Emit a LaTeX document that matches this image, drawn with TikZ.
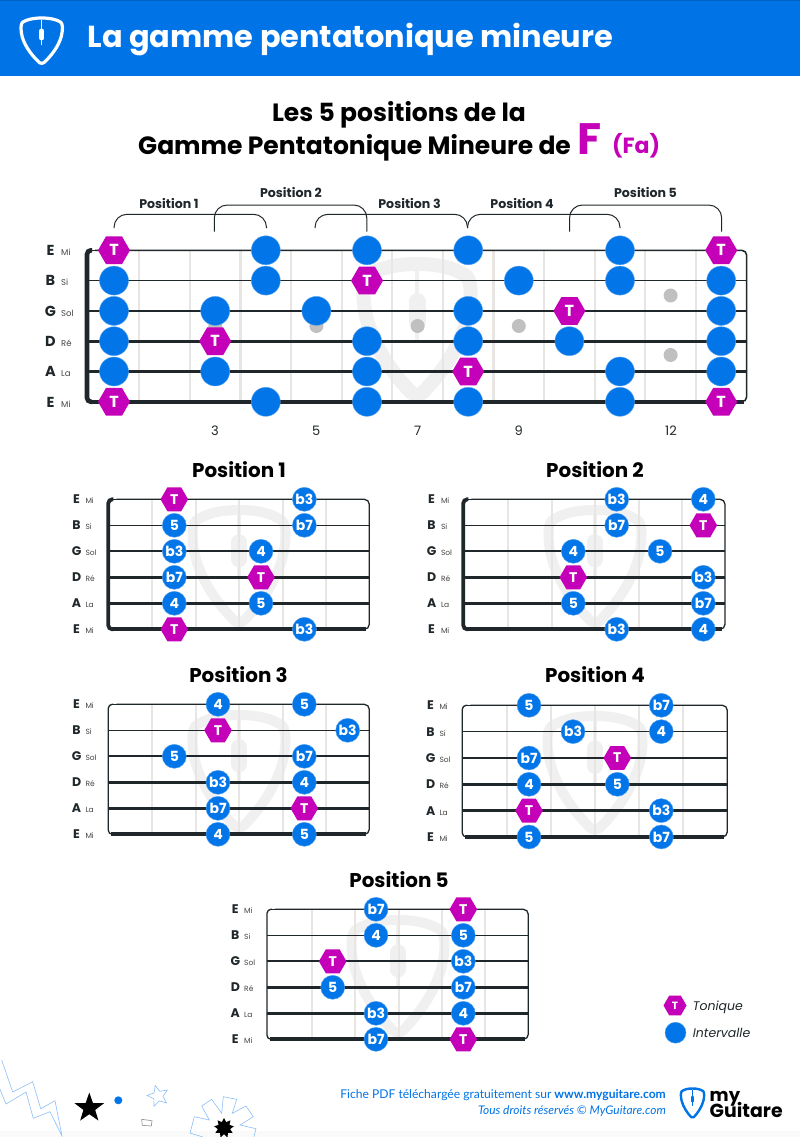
\documentclass[tikz,border=0pt]{standalone}
\usepackage{fontspec}
\setmainfont{Poppins}
\newfontfamily\lato{Lato}
\usetikzlibrary{shapes.geometric}
\definecolor{hblue}{HTML}{0073E6}
\definecolor{nblue}{HTML}{0275E8}
\definecolor{mag}{HTML}{C400B8}
\definecolor{dark}{HTML}{20272A}
\definecolor{fret}{HTML}{E8E5E2}
\definecolor{wm}{HTML}{F0F0F0}
\definecolor{dotg}{HTML}{C0C0C0}
\definecolor{lblue}{HTML}{8CC0F8}
\definecolor{lab}{HTML}{444444}
\newcommand{\fs}[1]{\fontsize{#1}{#1}\selectfont}
\newcounter{nn}
\tikzset{
  nm/.code={\stepcounter{nn}\tikzset{name=n\arabic{nn}}},
  every node/.style={nm,inner sep=0pt},
  cnote/.style={circle,fill=nblue,draw=nblue!65!white,line width=.4pt,minimum size=24pt,text=white,font=\fs{14}\bfseries},
  hnote/.style={regular polygon,regular polygon sides=6,fill=mag,minimum size=27.6pt,text=white,font=\fs{14}\bfseries},
  bcnote/.style={cnote,minimum size=29pt,font=\fs{15}\bfseries},
  bhnote/.style={hnote,minimum size=32pt,font=\fs{16}\bfseries},
  fretl/.style={fret,line width=2pt},
  brack/.style={dark,line width=1pt,rounded corners=13pt},
  gdot/.style={circle,fill=dotg,minimum size=14pt},
  ttl/.style={font=\fs{19.9}\bfseries,text=black},
  plab/.style={font=\fs{12.6}\bfseries,text=dark},
}
% pick: cx top hw vscale line-width colour pill-width
\newcommand{\pick}[7]{%
  \begin{scope}[shift={(#1,#2)},x=#3pt,y=-#4pt]
    \draw[#6,line width=#5pt,line join=round] (0,0)
      .. controls (.42,0) and (.72,.07) .. (.93,.2)
      .. controls (1.04,.28) and (1.03,.6) .. (.95,.9)
      .. controls (.8,1.4) and (.42,1.85) .. (.1,2.13)
      .. controls (.05,2.17) and (-.05,2.17) .. (-.1,2.13)
      .. controls (-.42,1.85) and (-.8,1.4) .. (-.95,.9)
      .. controls (-1.03,.6) and (-1.04,.28) .. (-.93,.2)
      .. controls (-.72,.07) and (-.42,0) .. cycle;
    \draw[#6,line width=#5pt*.35] (0,.1) -- (0,1.28);
    \draw[#6,line width=#7pt,line cap=round] (0,.62) -- (0,.95);
  \end{scope}}
% string labels: frame-left ytop dy bigsize smallsize offBig offSmall
\newcommand{\slabels}[7]{%
  \foreach \s/\bg/\sm in {0/E/Mi,1/B/Si,2/G/Sol,3/D/Ré,4/A/La,5/E/Mi}{
    \pgfmathsetmacro\yy{#2+#3*\s+#4*.36}
    \pgfmathsetmacro\xa{#1-#6}
    \pgfmathsetmacro\xb{#1-#7}
    \node[anchor=base,text=dark,font=\fs{#4}\bfseries] at (\xa,\yy) {\bg};
    \node[anchor=base west,text=lab,font=\fs{#5}] at (\xb,\yy) {\sm};
  }}
% strings: left right ytop dy scale
\newcommand{\strs}[5]{%
  \foreach \s/\w/\ins in {0/1.1/3,1/1.4/0,2/1.8/0,3/2.3/0,4/2.9/0,5/3.6/3}{
    \pgfmathsetmacro\yy{#3+#4*\s}
    \pgfmathsetmacro\ww{\w*#5}
    \draw[dark,line width=\ww pt] (#1+\ins,\yy) -- (#2-\ins,\yy);
  }}
% frame: left right ytop dy rightw leftw
\newcommand{\frm}[6]{%
  \pgfmathsetmacro\yb{#3+5*#4}
  \draw[dark,line width=#5pt,rounded corners=5pt] (#1+8,#3) -- (#2,#3) -- (#2,\yb) -- (#1+8,\yb);
  \draw[dark,line width=#6pt,rounded corners=4pt] (#1+5,#3) -- (#1,#3) -- (#1,\yb) -- (#1+5,\yb);
}
% small notes: ytop dy circles(s/x/l) hexes(s/x)
\newcommand{\snotes}[4]{%
  \foreach \s/\x/\nl in {#3}{
    \pgfmathsetmacro\yy{#1+#2*\s}
    \node[cnote] at (\x,\yy) {\nl};
  }
  \foreach \s/\x in {#4}{
    \pgfmathsetmacro\yy{#1+#2*\s}
    \node[hnote] at (\x,\yy) {T};
  }}
% frets: first spacing ytop ybot
\newcommand{\frts}[4]{%
  \foreach \i in {0,...,4}{
    \pgfmathsetmacro\xx{#1+#2*\i}
    \draw[fretl] (\xx,#3) -- (\xx,#4);
  }}
\begin{document}
\begin{tikzpicture}[x=1pt,y=-1pt]
\useasboundingbox (0,0) rectangle (800,1137);
% ===== header
\fill[white] (0,0) rectangle (800,1137);
\fill[hblue] (0,0) rectangle (800,76);
\fill[hblue!85!black] (0,0) rectangle (800,1);
\pick{41.7}{18}{20.5}{21}{3.2}{white}{5}
\node[anchor=base west,text=white,font=\fs{30.4}\bfseries] at (87.5,48) {La gamme pentatonique mineure};
% ===== main title
\node[anchor=base,font=\fs{25}\bfseries,text=black] at (399,121.5) {Les 5 positions de la};
\node[anchor=base west,font=\fs{25}\bfseries,text=black] at (138,154) {Gamme Pentatonique Mineure de};
\node[anchor=base west,font=\fs{44}\bfseries,text=mag] at (577,154.5) {F};
\node[anchor=base west,font=\fs{22}\bfseries,text=mag] at (612,153.5) {(Fa)};
% ===== main fretboard
\pick{417}{264}{53}{60.5}{14}{wm}{17}
\foreach \k in {0,...,11}{
  \pgfmathsetmacro\xx{139.3+50.6*\k}
  \draw[fret,line width=2.2pt] (\xx,250) -- (\xx,402);
}
\foreach \k/\yy in {2/326,4/326,6/326,8/326,11/295.5,11/355}{
  \pgfmathsetmacro\xx{114+50.6*\k}
  \node[gdot] at (\xx,\yy) {};
}
\slabels{87}{250.3}{30.3}{14.5}{8.5}{36.5}{26}
\strs{87}{746.7}{250.3}{30.3}{1.2}
\frm{87}{746.7}{250.3}{30.3}{1.5}{4.6}
\draw[brack] (114,228) -- (114,214.3) -- (266.5,214.3) -- (266.5,228);
\draw[brack] (214.3,231.5) -- (214.3,205) -- (366.8,205) -- (366.8,231.5);
\draw[brack] (315,228) -- (315,214.3) -- (467.5,214.3) -- (467.5,228);
\draw[brack] (467.5,228) -- (467.5,214.3) -- (620,214.3) -- (620,228);
\draw[brack] (569.5,231.5) -- (569.5,205) -- (721.7,205) -- (721.7,231.5);
\node[plab] at (169,204) {Position 1};
\node[plab] at (291,192.8) {Position 2};
\node[plab] at (409.5,204) {Position 3};
\node[plab] at (522,204) {Position 4};
\node[plab] at (645.5,192.8) {Position 5};
\foreach \s/\k in {0/3,0/5,0/7,0/10,1/0,1/3,1/8,1/10,1/12,2/0,2/2,2/4,2/7,2/12,3/0,3/5,3/7,3/9,3/12,4/0,4/2,4/5,4/10,4/12,5/3,5/5,5/7,5/10}{
  \pgfmathsetmacro\xx{114+50.6*\k}
  \pgfmathsetmacro\yy{250.3+30.3*\s}
  \node[bcnote] at (\xx,\yy) {};
}
\foreach \s/\k in {0/0,0/12,1/5,2/9,3/2,4/7,5/0,5/12}{
  \pgfmathsetmacro\xx{114+50.6*\k}
  \pgfmathsetmacro\yy{250.3+30.3*\s}
  \node[bhnote] at (\xx,\yy) {T};
}
\foreach \xx/\t in {215/3,316.3/5,417.6/7,518.8/9,671/12}{
  \node[font=\fs{13},text=dark] at (\xx,431) {\t};
}
% ===== position 1
\node[ttl] at (239,470) {Position 1};
\pick{239}{510}{46}{52}{10}{wm}{16}
\frts{152.3}{43.4}{499.3}{629.3}
\slabels{108.3}{499.3}{26}{12.5}{7.5}{31.7}{23}
\strs{108.3}{369.3}{499.3}{26}{1.1}
\frm{108.3}{369.3}{499.3}{26}{1.3}{3.8}
\snotes{499.3}{26}{0/304.4/b3,1/174.3/5,1/304.4/b7,2/174.3/b3,2/261/4,3/174.3/b7,4/174.3/4,4/261/5,5/304.4/b3}{0/174.3,3/261,5/174.3}
% ===== position 2
\node[ttl] at (595,470) {Position 2};
\pick{595}{510}{46}{52}{10}{wm}{16}
\frts{508.3}{43.4}{499.3}{629.3}
\slabels{463.3}{499.3}{26}{12.5}{7.5}{31.7}{22.5}
\strs{463.3}{725}{499.3}{26}{1.1}
\frm{463.3}{725}{499.3}{26}{1.3}{3.8}
\snotes{499.3}{26}{0/616.7/b3,0/703.3/4,1/616.7/b7,2/573.3/4,2/660/5,3/703.3/b3,4/573.3/5,4/703.3/b7,5/616.7/b3,5/703.3/4}{1/703.3,3/573.3}
% ===== position 3
\node[ttl] at (238.5,675) {Position 3};
\pick{239}{715}{46}{52}{10}{wm}{16}
\frts{152.3}{43.4}{704.3}{834.3}
\slabels{108.3}{704.3}{26}{12.5}{7.5}{31.7}{23}
\strs{108.3}{369.3}{704.3}{26}{1.1}
\frm{108.3}{369.3}{704.3}{26}{1.3}{1.3}
\snotes{704.3}{26}{0/218/4,0/304.3/5,1/347.7/b3,2/174.3/5,2/304.3/b7,3/218/b3,3/304.3/4,4/218/b7,5/218/4,5/304.3/5}{1/218,4/304.3}
% ===== position 4
\node[ttl] at (595,675) {Position 4};
\pick{595}{716}{47}{52.5}{10}{wm}{16}
\frts{507.3}{44}{705.3}{837}
\slabels{462.3}{705.3}{26.33}{12.5}{7.5}{31.7}{23}
\strs{462.3}{727.3}{705.3}{26.33}{1.1}
\frm{462.3}{727.3}{705.3}{26.33}{1.3}{1.3}
\snotes{705.3}{26.33}{0/529/5,0/661.3/b7,1/573/b3,1/661.3/4,2/529/b7,3/529/4,3/617.3/5,4/661.3/b3,5/529/5,5/661.3/b7}{2/617.3,4/529}
% ===== position 5
\node[ttl] at (399,880) {Position 5};
\pick{398}{920}{46}{52}{10}{wm}{16}
\frts{311.7}{43.4}{909.3}{1039.3}
\slabels{267}{909.3}{26}{12.5}{7.5}{31.7}{23}
\strs{267}{528.3}{909.3}{26}{1.1}
\frm{267}{528.3}{909.3}{26}{1.3}{1.3}
\snotes{909.3}{26}{0/376/b7,1/376/4,1/463.3/5,2/463.3/b3,3/332.7/5,3/463.3/b7,4/376/b3,4/463.3/4,5/376/b7}{0/463.3,2/332.7,5/463.3}
% ===== legend
\node[hnote,minimum size=23pt,font=\fs{10.5}\bfseries] at (675,1005.5) {T};
\node[cnote,minimum size=21pt] at (675.5,1032.7) {};
\node[anchor=base west,font=\fs{12.5}\itshape,text=dark] at (692.7,1010) {Tonique};
\node[anchor=base west,font=\fs{12.5}\itshape,text=dark] at (692.7,1037) {Intervalle};
% ===== footer
\node[anchor=base east,text=hblue,font=\lato\fs{12.1}] at (666,1098) {Fiche PDF téléchargée gratuitement sur \textbf{www.myguitare.com}};
\node[anchor=base east,text=hblue,font=\lato\fs{11.9}\itshape] at (666,1114.5) {Tous droits réservés © MyGuitare.com};
\pick{692.5}{1088.5}{11.5}{13.5}{2.4}{hblue}{3}
\node[anchor=base west,text=black,font=\fs{18}\bfseries] at (709.5,1101) {my};
\node[anchor=base west,text=black,font=\fs{18.9}\bfseries] at (709.5,1117.5) {Guitare};
% ===== decorations
\fill[black!2] (0,1131) rectangle (800,1137);
\draw[lblue,line width=.6pt,line join=miter] (1.7,1060) -- (12.7,1092) -- (32.7,1081.7) -- (40.7,1108.7) -- (55,1100.7) -- (62,1136) -- (50,1111.7) -- (33.3,1118.3) -- (26,1092) -- (6,1104) -- (0,1089.3);
\node[star,star points=5,star point ratio=2.5,fill=black,minimum size=31pt] at (89.3,1108) {};
\node[circle,fill=nblue,minimum size=8pt] at (118.3,1100.3) {};
\node[star,star points=5,star point ratio=2.2,draw=lblue,line width=.6pt,minimum size=22pt,rotate=15] at (158,1096) {};
\draw[black!40,line width=.7pt] (141.7,1119.3) -- (152,1120.7) -- (151.3,1126) -- (142.3,1125.3) -- cycle;
\draw[lblue,line width=.6pt] (191.7,1126.7) -- (194.3,1116.7) -- (209.3,1120) -- (201.7,1106) -- (211.7,1099.3) -- (221.7,1113.3) -- (223.3,1096.7) -- (236.7,1099.3) -- (232.3,1113.3) -- (246,1106) -- (253.3,1116.7) -- (240,1125) -- (256,1128.7) -- (254,1136.7);
\draw[lblue,line width=.6pt] (191.7,1126.7) -- (190,1133) -- (203,1137);
\node[star,star points=9,star point ratio=1.6,fill=black,minimum size=20pt] at (224,1128) {};
\end{tikzpicture}
\end{document}
